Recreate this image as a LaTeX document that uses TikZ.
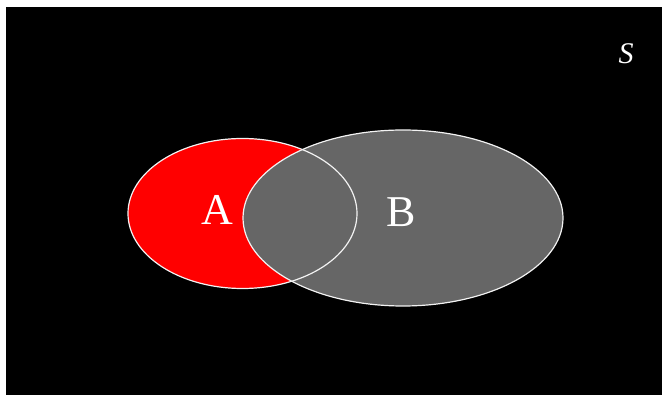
\documentclass[tikz,border=0pt]{standalone}
\usepackage{fontspec}
\setmainfont{Liberation Serif}
\usepackage{xcolor}
\definecolor{cBack}{HTML}{000000}
\definecolor{cSetA}{HTML}{FF0000}
\definecolor{cSetB}{HTML}{666666}
\definecolor{cLine}{HTML}{F2F2F2}
\usetikzlibrary{positioning,shapes.geometric}
\tikzset{
  set-a/.style={ellipse,fill=cSetA,minimum width=229pt,minimum height=150pt,inner sep=0pt},
  set-b/.style={ellipse,fill=cSetB,minimum width=320pt,minimum height=176pt,inner sep=0pt},
  set-rim/.style={draw=cLine,line width=1.2pt},
  set-label/.style={text=white,font=\fontsize{44}{44}\selectfont,inner sep=0pt},
  space-label/.style={text=white,font=\fontsize{30}{30}\selectfont\itshape,inner sep=0pt},
}

\begin{document}
\begin{tikzpicture}[x=1pt,y=-1pt]
  \useasboundingbox (0,0) rectangle (662,395);
  \fill[white] (0,0) rectangle (662,395);
  \fill[cBack] (6,7) rectangle (662,395);
  % sets
  \node[set-a] (setA) at (242.5,213.5) {};
  \node[set-b] (setB) at (403,218) {};
  \draw[set-rim] (setA.center) ellipse [x radius=114.5pt,y radius=75pt];
  \draw[set-rim] (setB.center) ellipse [x radius=160pt,y radius=88pt];
  % labels
  \node[set-label] (labA) at (217.5,210) {A};
  \node[set-label] (labB) at (401.5,212) {B};
  \node[space-label] (labS) at (626,54) {S};
\end{tikzpicture}
\end{document}
